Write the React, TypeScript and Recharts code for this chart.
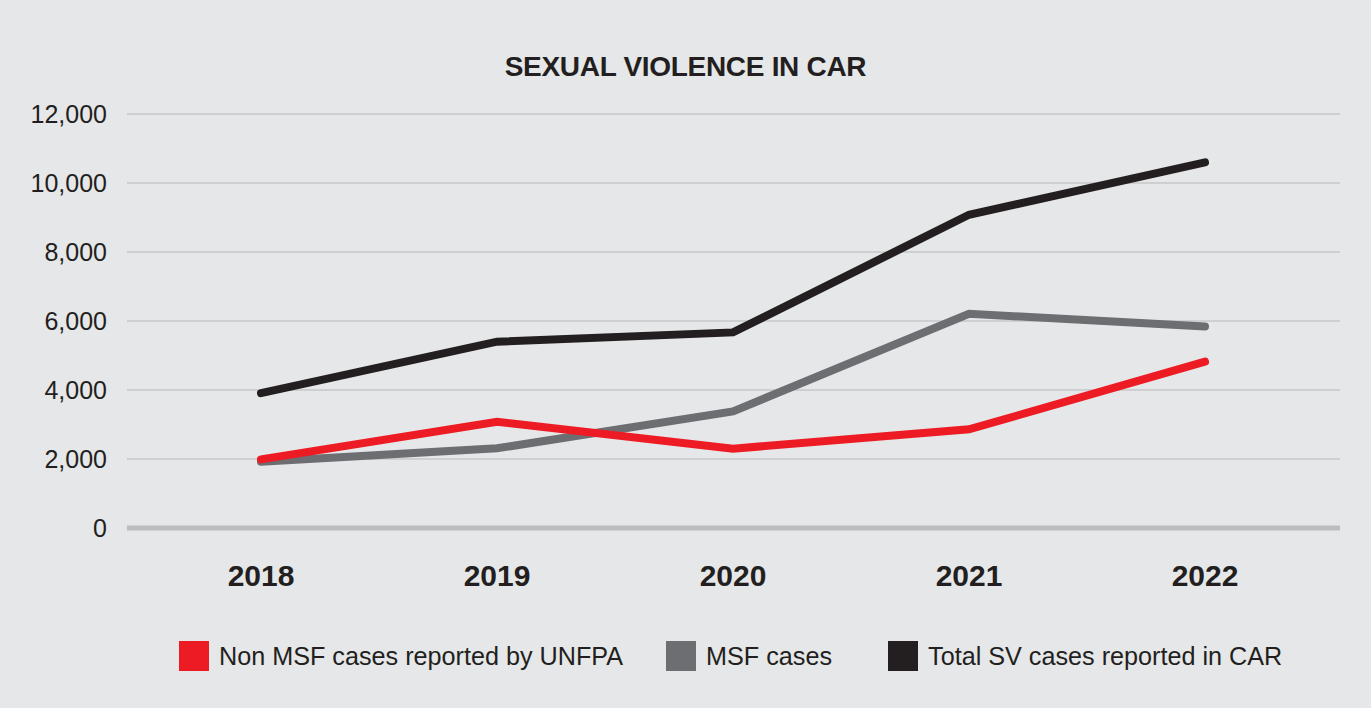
import React from 'react';
import {
  LineChart,
  Line,
  XAxis,
  YAxis,
  CartesianGrid,
  Legend,
} from 'recharts';

const years = ['2018', '2019', '2020', '2021', '2022'];
const nonMsfCases = [1990, 3080, 2300, 2860, 4820];
const msfCases = [1920, 2310, 3380, 6210, 5840];
const totalCases = [3910, 5400, 5670, 9080, 10600];
const yTicks = [0, 2000, 4000, 6000, 8000, 10000, 12000];

const RED = '#ed1c24';
const GREY = '#6d6e71';
const BLACK = '#231f20';
const BG = '#e6e7e8';
const FONT = '"Liberation Sans", Arial, Helvetica, sans-serif';

const legendItems = [
  { name: 'Non MSF cases reported by UNFPA', color: RED, gap: 43 },
  { name: 'MSF cases', color: GREY, gap: 56 },
  { name: 'Total SV cases reported in CAR', color: BLACK, gap: 0 },
];

const data = years.map((year, i) => ({
  year,
  nonMsf: nonMsfCases[i],
  msf: msfCases[i],
  total: totalCases[i],
}));

const formatThousands = (v: number) => v.toLocaleString('en-US');

const renderLegend = () => (
  <div style={{ display: 'flex', alignItems: 'center', paddingLeft: 179, fontFamily: FONT }}>
    {legendItems.map((item) => (
      <div key={item.name} style={{ display: 'flex', alignItems: 'center', marginRight: item.gap }}>
        <span style={{ width: 30, height: 30, background: item.color, display: 'inline-block' }} />
        <span style={{ marginLeft: 10, fontSize: 25.2, color: BLACK, lineHeight: '30px' }}>{item.name}</span>
      </div>
    ))}
  </div>
);

export default function App() {
  return (
    <div
      style={{
        position: 'absolute',
        top: 0,
        left: 0,
        width: 1371,
        height: 708,
        background: BG,
        fontFamily: FONT,
      }}
    >
      <div
        style={{
          position: 'absolute',
          top: 53,
          left: 0,
          width: 1371,
          textAlign: 'center',
          fontSize: 28,
          lineHeight: 1,
          fontWeight: 700,
          letterSpacing: -0.3,
          color: BLACK,
        }}
      >
        SEXUAL VIOLENCE IN CAR
      </div>
      <LineChart
        width={1371}
        height={708}
        data={data}
        margin={{ top: 114, right: 31, left: 0, bottom: 120 }}
      >
        <CartesianGrid vertical={false} stroke="#c6c7c9" strokeWidth={1.5} />
        <XAxis
          dataKey="year"
          height={60}
          padding={{ left: 134, right: 135 }}
          axisLine={{ stroke: '#bcbdc0', strokeWidth: 5 }}
          tickLine={false}
          tickSize={0}
          tickMargin={37}
          tick={{ fill: BLACK, fontSize: 30, fontWeight: 700, fontFamily: FONT }}
        />
        <YAxis
          width={127}
          domain={[0, 12000]}
          ticks={yTicks}
          tickFormatter={formatThousands}
          axisLine={false}
          tickLine={false}
          tickSize={0}
          tickMargin={20}
          tick={{ fill: BLACK, fontSize: 25, fontFamily: FONT }}
        />
        <Legend
          layout="horizontal"
          verticalAlign="middle"
          align="center"
          wrapperStyle={{ top: 641, left: 0, width: 1371 }}
          content={renderLegend}
        />
        <Line
          type="linear"
          dataKey="msf"
          name="MSF cases"
          stroke={GREY}
          strokeWidth={8}
          strokeLinecap="round"
          dot={false}
          activeDot={false}
          isAnimationActive={false}
        />
        <Line
          type="linear"
          dataKey="nonMsf"
          name="Non MSF cases reported by UNFPA"
          stroke={RED}
          strokeWidth={8}
          strokeLinecap="round"
          dot={false}
          activeDot={false}
          isAnimationActive={false}
        />
        <Line
          type="linear"
          dataKey="total"
          name="Total SV cases reported in CAR"
          stroke={BLACK}
          strokeWidth={8}
          strokeLinecap="round"
          dot={false}
          activeDot={false}
          isAnimationActive={false}
        />
      </LineChart>
    </div>
  );
}
